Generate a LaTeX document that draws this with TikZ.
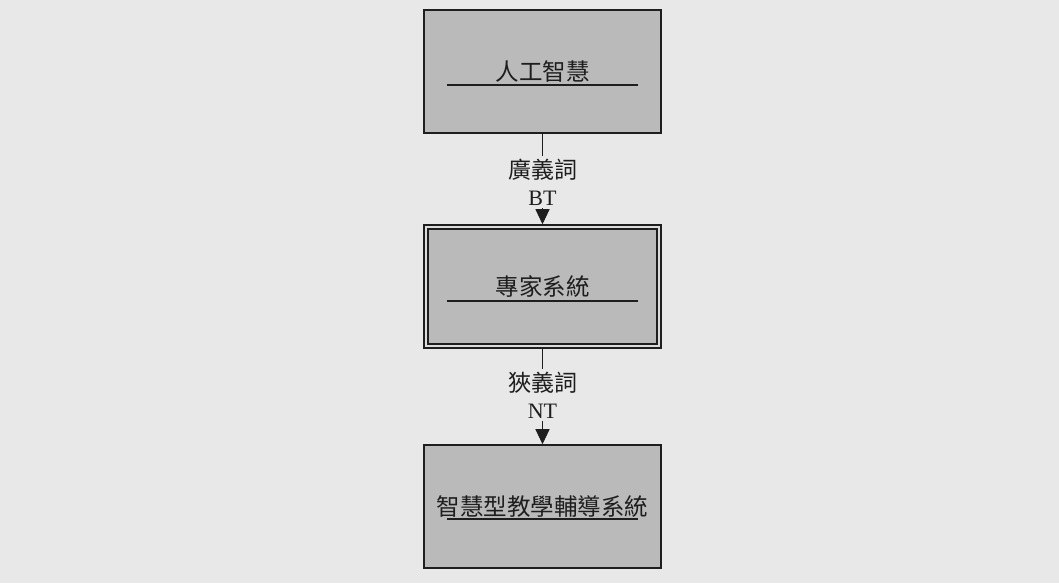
\documentclass[tikz,border=0pt]{standalone}
\usepackage{fontspec}
\setmainfont{Liberation Serif}
\newfontfamily\cjk{Noto Sans CJK TC}
\usetikzlibrary{arrows.meta,calc}
\definecolor{paper}{HTML}{E8E8E8}
\definecolor{gap}{HTML}{DCDCDC}
\definecolor{boxfill}{HTML}{BABABA}
\definecolor{ink}{HTML}{1E1E1E}
\tikzset{
  x=1pt,y=1pt,
  termbox/.style={draw=ink, line width=1.5pt, fill=boxfill, minimum width=237pt, minimum height=123pt, inner sep=0pt, font=\cjk\fontsize{23.5}{27}\selectfont, text=ink},
  innerframe/.style={draw=ink, line width=1.6pt, fill=boxfill},
  uline/.style={draw=ink, line width=1.8pt},
  conn/.style={draw=ink, line width=1pt},
  arr/.style={conn, -{Triangle[width=14pt,length=15pt]}},
  lab/.style={align=center, inner sep=0pt, font=\fontsize{22}{27}\selectfont, text=ink}
}
\begin{document}
\begin{tikzpicture}
\fill[paper] (0,0) rectangle (1059,583);
\useasboundingbox (0,0) rectangle (1059,583);
\node[termbox] (b1) at (542.5,511.5) {人工智慧};
\node[termbox, fill=gap] (b2) at (542.5,296.5) {};
\draw[innerframe] ($(b2.south west)+(4.5,4.5)$) rectangle ($(b2.north east)-(4.5,4.5)$);
\node[font=\cjk\fontsize{23.5}{27}\selectfont, text=ink, inner sep=0pt] (t2) at (b2.center) {專家系統};
\node[termbox] (b3) at (542.5,76.5) {智慧型教學輔導系統};
\node[lab] (l1) at (542.5,401) {{\cjk\fontsize{23}{27}\selectfont 廣義詞}\\BT};
\node[lab] (l2) at (542.5,188) {{\cjk\fontsize{23}{27}\selectfont 狹義詞}\\NT};
\foreach \b/\d in {b1/13.5,b2/14.5,b3/12.5}
  \draw[uline] ($(\b.center)+(-95.5,-\d)$) -- ($(\b.center)+(95.5,-\d)$);
\draw[conn] (b1.south) -- ([yshift=3pt]l1.north);
\draw[arr] ([yshift=-3pt]l1.south) -- (b2.north);
\draw[conn] (b2.south) -- ([yshift=3pt]l2.north);
\draw[arr] ([yshift=-3pt]l2.south) -- (b3.north);
\end{tikzpicture}
\end{document}
